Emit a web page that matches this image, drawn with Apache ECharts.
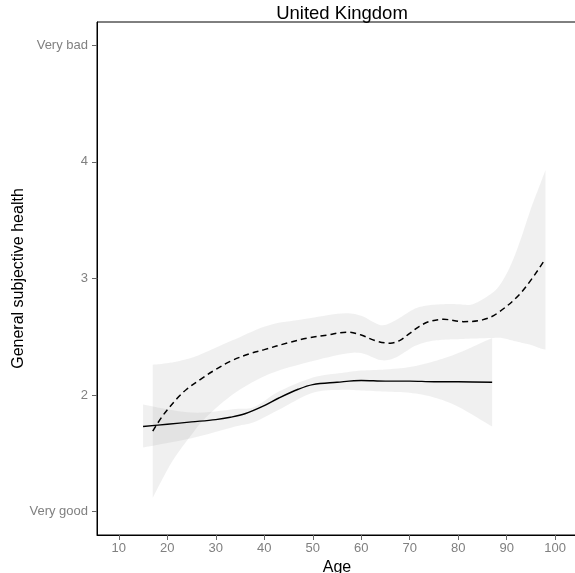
<!DOCTYPE html>
<html>
<head>
<meta charset="utf-8">
<script src="https://cdn.jsdelivr.net/npm/echarts@6/dist/echarts.min.js"></script>
<style>
    html, body { margin: 0; padding: 0; background: #fff; }
    #chart { width: 575px; height: 573px; }
</style>
</head>
<body>
<div id="chart"></div>
<script>
// axis ticks
var xTicks = [10, 20, 30, 40, 50, 60, 70, 80, 90, 100];
var yTicks = [1, 2, 3, 4, 5];
var yTickNames = { 1: 'Very good', 5: 'Very bad' };

// solid curve
var solidAge = [15, 20, 25, 30, 33, 36, 40, 43, 47, 50, 55, 60, 65, 70, 75, 80, 87];
var solidVal = [1.73, 1.75, 1.77, 1.79, 1.81, 1.84, 1.91, 1.975, 2.05, 2.09, 2.11, 2.125, 2.12, 2.12, 2.115, 2.115, 2.11];
// solid confidence band
var solidBandAge = [15, 25, 34, 38, 43, 50, 56, 60, 65, 70, 75, 80, 87];
var solidLow = [1.55, 1.63, 1.73, 1.77, 1.875, 2.02, 2.045, 2.04, 2.03, 2.02, 1.98, 1.90, 1.73];
var solidHigh = [1.92, 1.85, 1.88, 1.90, 2.03, 2.15, 2.19, 2.21, 2.22, 2.24, 2.29, 2.36, 2.49];

// dashed curve
var dashAge = [17, 19, 22, 24, 27, 30, 33, 37, 40, 45, 49, 53, 57, 60, 63, 66, 68, 70, 72, 74, 77, 81, 85, 88, 93, 98];
var dashVal = [1.69, 1.82, 1.97, 2.05, 2.14, 2.22, 2.29, 2.355, 2.39, 2.45, 2.49, 2.515, 2.54, 2.515, 2.465, 2.445, 2.47, 2.53, 2.59, 2.63, 2.65, 2.63, 2.645, 2.70, 2.88, 3.17];
// dashed confidence band
var dashBandAge = [17, 21, 25, 28, 34, 41, 48, 56, 60, 64, 67, 71, 74, 77, 80, 83, 87, 89, 91, 93, 95, 97, 98];
var dashLow = [1.12, 1.43, 1.66, 1.81, 2.02, 2.18, 2.27, 2.35, 2.36, 2.30, 2.32, 2.42, 2.46, 2.475, 2.48, 2.485, 2.49, 2.49, 2.47, 2.45, 2.43, 2.40, 2.39];
var dashHigh = [2.26, 2.28, 2.32, 2.37, 2.48, 2.60, 2.65, 2.70, 2.68, 2.60, 2.64, 2.74, 2.77, 2.78, 2.78, 2.78, 2.875, 2.97, 3.13, 3.35, 3.60, 3.82, 3.93];

var bandColor = 'rgba(153, 153, 153, 0.15)';
var font = 'Liberation Sans, Arial, sans-serif';

function pairs(xs, ys) {
    return xs.map(function (x, i) { return [x, ys[i]]; });
}

// catmull-rom through pixel points, sampled for polygon drawing
function smoothPoints(pts) {
    var out = [pts[0]];
    var steps = 8;
    for (var i = 0; i < pts.length - 1; i++) {
        var p0 = pts[i - 1] || pts[i];
        var p1 = pts[i];
        var p2 = pts[i + 1];
        var p3 = pts[i + 2] || pts[i + 1];
        var c1 = [p1[0] + (p2[0] - p0[0]) / 6, p1[1] + (p2[1] - p0[1]) / 6];
        var c2 = [p2[0] - (p3[0] - p1[0]) / 6, p2[1] - (p3[1] - p1[1]) / 6];
        for (var s = 1; s <= steps; s++) {
            var t = s / steps, u = 1 - t;
            out.push([
                u * u * u * p1[0] + 3 * u * u * t * c1[0] + 3 * u * t * t * c2[0] + t * t * t * p2[0],
                u * u * u * p1[1] + 3 * u * u * t * c1[1] + 3 * u * t * t * c2[1] + t * t * t * p2[1],
            ]);
        }
    }
    return out;
}

function bandSeries(name, ages, low, high) {
    return {
        name: name,
        type: 'custom',
        silent: true,
        z: 1,
        data: [[ages[0], low[0]]],
        renderItem: function (params, api) {
            var upper = ages.map(function (a, i) { return api.coord([a, high[i]]); });
            var lower = ages.map(function (a, i) { return api.coord([a, low[i]]); });
            var pts = smoothPoints(upper).concat(smoothPoints(lower.reverse()));
            return {
                type: 'polygon',
                shape: { points: pts },
                style: { fill: bandColor, stroke: null },
            };
        },
    };
}

var chart = echarts.init(document.getElementById('chart'));

var series = [
    bandSeries('solid-band', solidBandAge, solidLow, solidHigh),
    bandSeries('dash-band', dashBandAge, dashLow, dashHigh),
    {
        name: 'solid',
        type: 'line',
        data: pairs(solidAge, solidVal),
        smooth: 0.35,
        showSymbol: false,
        lineStyle: { color: '#000', width: 1.4 },
        z: 5,
    },
    {
        name: 'dashed',
        type: 'line',
        data: pairs(dashAge, dashVal),
        smooth: 0.35,
        showSymbol: false,
        lineStyle: { color: '#000', width: 1.5, type: [6, 4] },
        z: 5,
    },
];

var option = {
    animation: false,
    title: {
        text: 'United Kingdom',
        left: 337,
        textAlign: 'center',
        top: -1,
        textStyle: { fontFamily: font, fontSize: 18.5, fontWeight: 'normal', color: '#000' },
    },
    grid: {
        left: 97,
        top: 22,
        width: 480,
        height: 513,
        show: true,
        borderColor: '#000',
        borderWidth: 1,
        containLabel: false,
        outerBoundsMode: 'none',
    },
    xAxis: {
        type: 'value',
        min: 5.5,
        max: 104.5,
        name: 'Age',
        nameLocation: 'middle',
        nameGap: 20,
        nameTextStyle: { fontFamily: font, fontSize: 16, color: '#000', verticalAlign: 'top' },
        axisLine: { show: true, lineStyle: { color: '#000', width: 1 } },
        axisTick: { show: true, customValues: xTicks, length: 5, lineStyle: { color: '#666' } },
        axisLabel: { customValues: xTicks, margin: 7, fontFamily: font, fontSize: 13, color: '#808080' },
        splitLine: { show: false },
    },
    yAxis: {
        type: 'value',
        min: 0.8,
        max: 5.2,
        name: 'General subjective health',
        nameLocation: 'middle',
        nameGap: 70,
        nameMoveOverlap: false,
        nameTextStyle: { fontFamily: font, fontSize: 16, color: '#000' },
        axisLine: { show: true, lineStyle: { color: '#000', width: 1 } },
        axisTick: { show: true, customValues: yTicks, length: 5, lineStyle: { color: '#666' } },
        axisLabel: {
            customValues: yTicks,
            margin: 9,
            fontFamily: font,
            fontSize: 13,
            color: '#808080',
            formatter: function (v) { return yTickNames[v] || String(v); },
        },
        splitLine: { show: false },
    },
    series: series,
};

chart.setOption(option);
</script>
</body>
</html>
